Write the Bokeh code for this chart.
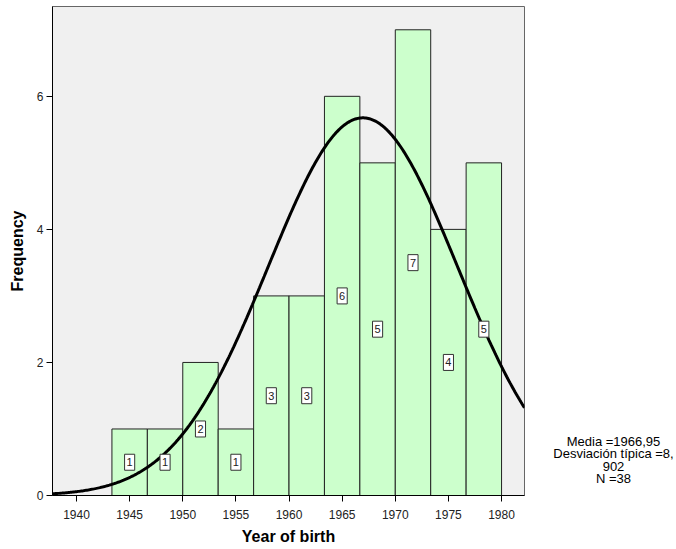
import numpy as np
from bokeh.plotting import figure
from bokeh.layouts import row
from bokeh.models import Range1d, FixedTicker, ColumnDataSource
from bokeh.core.properties import value
from bokeh.embed import file_html
from bokeh.resources import INLINE

# data
bin_start = 1943.3333
bin_width = 10.0 / 3.0
counts = [1, 1, 2, 1, 3, 3, 6, 5, 7, 4, 5]
mean_val = 1966.95
sd_val = 8.902
n_val = 38
x_ticks = [1940, 1945, 1950, 1955, 1960, 1965, 1970, 1975, 1980]
y_ticks = [0, 2, 4, 6]
stats_lines = ["Media =1966,95", "Desviación típica =8,", "902", "N =38"]

FONT = "Liberation Sans"

lefts = [bin_start + i * bin_width for i in range(len(counts))]
rights = [l + bin_width for l in lefts]
centers = [l + bin_width / 2 for l in lefts]
halves = [c / 2 for c in counts]

p = figure(width=525, height=549, output_backend="svg", toolbar_location=None,
           x_range=Range1d(1937.74, 1982.16), y_range=Range1d(0, 7.35),
           min_border_left=52, min_border_right=1, min_border_top=6, min_border_bottom=54)
p.background_fill_color = "#f0f0f0"
p.border_fill_color = "white"
p.outline_line_color = "#666666"
p.outline_line_width = 1
p.xgrid.visible = False
p.ygrid.visible = False

src = ColumnDataSource(dict(left=lefts, right=rights, top=counts, bottom=[0] * len(counts),
                            cx=centers, cy=halves, lab=[str(c) for c in counts]))
p.quad(left="left", right="right", top="top", bottom="bottom", source=src,
       fill_color="#ccffcc", line_color="#222222", line_width=1)

xs = np.linspace(1937.74, 1982.16, 400)
ys = n_val * bin_width / (sd_val * np.sqrt(2 * np.pi)) * np.exp(-0.5 * ((xs - mean_val) / sd_val) ** 2)
p.line(xs, ys, line_color="black", line_width=3)

p.text(x="cx", y="cy", text="lab", source=src, text_align="center",
       text_baseline="middle", text_font=value(FONT), text_font_size="11px",
       text_color="#222222", background_fill_color="white",
       border_line_color="#333333", border_line_width=1, padding=(2, 4))

p.xaxis.ticker = FixedTicker(ticks=x_ticks)
p.yaxis.ticker = FixedTicker(ticks=y_ticks)
for ax in (p.xaxis[0], p.yaxis[0]):
    ax.minor_tick_line_color = None
    ax.major_tick_in = 0
    ax.major_tick_out = 6
    ax.axis_line_color = "black"
    ax.major_tick_line_color = "black"
    ax.major_label_text_font = FONT
    ax.major_label_text_font_size = "12px"
    ax.major_label_text_color = "#222222"
    ax.axis_label_text_font = FONT
    ax.axis_label_text_font_style = "bold"
    ax.axis_label_text_font_size = "16px"
    ax.axis_label_text_color = "black"
p.xaxis.axis_label = "Year of birth"
p.yaxis.axis_label = "Frequency"
p.xaxis.major_label_standoff = 8
p.xaxis.axis_label_standoff = 6
p.yaxis.major_label_standoff = 3
p.yaxis.axis_label_standoff = 8

# side panel with the summary statistics (frame aligned with the main plot's frame;
# its data coordinates equal page pixels minus the panel's left offset)
p2 = figure(width=151, height=549, output_backend="svg", toolbar_location=None,
            x_range=Range1d(0, 151), y_range=Range1d(495, 6),
            min_border_left=0, min_border_right=0, min_border_top=6, min_border_bottom=54)
p2.axis.visible = False
p2.grid.visible = False
p2.outline_line_color = None
p2.background_fill_color = "white"
p2.border_fill_color = "white"
line_y = [441 + i * 12.3 for i in range(len(stats_lines))]
p2.text(x=[88] * len(stats_lines), y=line_y, text=stats_lines, text_align="center",
        text_baseline="middle", text_font=value(FONT), text_font_size="13px",
        text_color="black")

open("out.html", "w").write(file_html(row(p, p2), INLINE))
